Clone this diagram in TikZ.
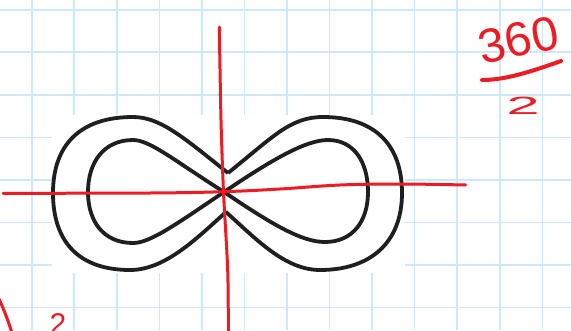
\documentclass[tikz,border=0pt]{standalone}
\usepackage{fontspec}
\newfontfamily\handfont{Liberation Sans}
\definecolor{gridblue}{HTML}{CDE8FA}
\definecolor{penred}{HTML}{ED1C24}
\begin{document}
\begin{tikzpicture}[x=1pt,y=-1pt,
  gridline/.style={draw=gridblue,line width=1.6pt},
  inkline/.style={draw=black!88,line width=3.8pt,line join=round},
  penline/.style={draw=penred,line width=3pt,line cap=round,line join=round},
  pentext/.style={text=penred,inner sep=0pt,font=\handfont}]
\useasboundingbox (0,0) rectangle (571,330);
\fill[white] (0,0) rectangle (571,330);
% grid paper
\foreach \i in {0,...,12} \draw[gridline] ({31.7+42.55*\i},0) -- ({31.7+42.55*\i},330);
\foreach \j in {0,...,7} \draw[gridline] (0,{9.7+42.55*\j}) -- (571,{9.7+42.55*\j});
% pasted picture background
\fill[white] (52,115) rectangle (405,273);
% infinity: inner figure-eight
\coordinate (C) at (224,192);
\draw[inkline] (C) .. controls (175,161) and (150,140) .. (133,140)
  .. controls (104,140) and (88,162) .. (88,192)
  .. controls (88,222) and (104,243) .. (133,243)
  .. controls (150,243) and (175,225) .. (C)
  .. controls (273,159) and (306,140) .. (328,140)
  .. controls (354,140) and (368,162) .. (368,192)
  .. controls (368,222) and (352,242) .. (325,242)
  .. controls (302,242) and (273,225) .. (C);
% infinity: outer outline
\coordinate (T) at (228,173);
\coordinate (B) at (226,212);
\draw[inkline] (T) .. controls (183,137) and (160,117) .. (133,117)
  .. controls (81,117) and (53,144) .. (53,193)
  .. controls (53,243) and (80,270) .. (130,270)
  .. controls (165,270) and (196,239) .. (B)
  .. controls (256,239) and (285,270) .. (320,270)
  .. controls (370,270) and (402,243) .. (402,193)
  .. controls (402,144) and (374,117) .. (323,117)
  .. controls (290,117) and (273,137) .. (T);
% red axes
\draw[penline] plot[smooth] coordinates {(219.3,27) (221,120) (223.5,192) (227.7,270) (228.3,332)};
\draw[penline] plot[smooth,tension=0.6] coordinates {(3,193.3) (150,193) (223,191.7) (280,189) (340,185) (400,184) (465.7,185)};
% 360 / 2
\node[pentext,anchor=base,rotate=12,font=\handfont\fontsize{48}{48}\selectfont] (num) at (522,56) {360};
\draw[penline,line width=4pt] (482,80) .. controls (505,80) and (530,72) .. (561,61);
\node[pentext,xscale=2.4,font=\handfont\fontsize{25}{25}\selectfont] (den) at (523,106) {2};
% bottom-left marks
\draw[penline] (-1,299) .. controls (4,310) and (8,320) .. (12,333);
\node[pentext,anchor=base,font=\handfont\fontsize{30}{30}\selectfont] (mark) at (58,334) {2};
\end{tikzpicture}
\end{document}
